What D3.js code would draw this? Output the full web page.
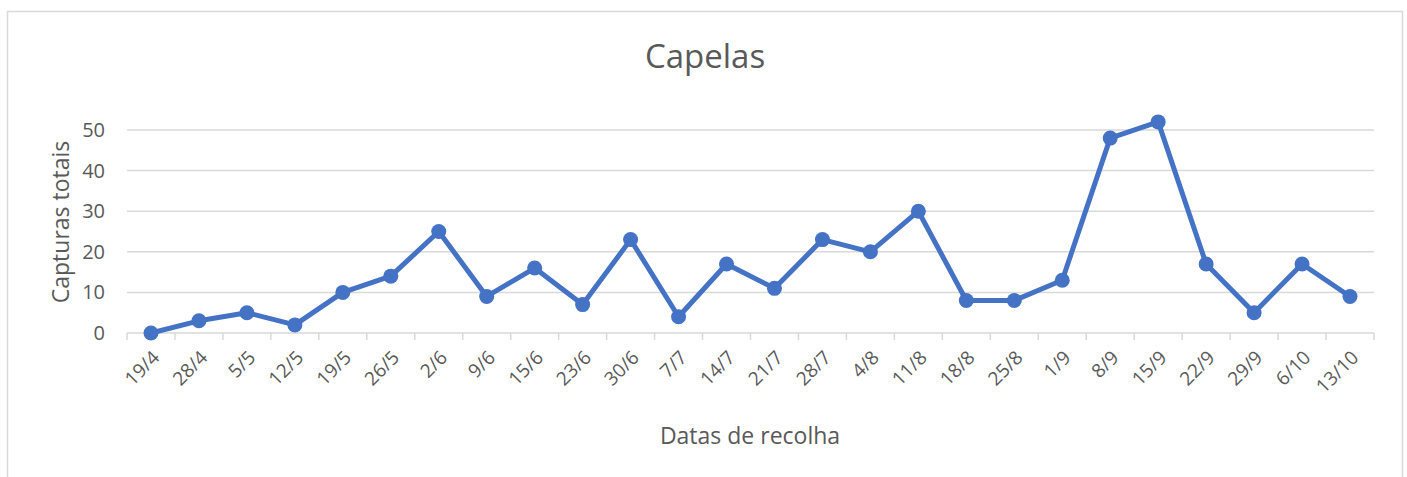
<!DOCTYPE html>
<html>
<head>
<meta charset="utf-8">
<script src="https://cdn.jsdelivr.net/npm/d3@7"></script>
<style>
  body { margin: 0; background: #fff; }
  svg { font-family: "Open Sans", sans-serif; }
</style>
</head>
<body>
<div class="chart-box"></div>
<script>
var dates = ["19/4","28/4","5/5","12/5","19/5","26/5","2/6","9/6","15/6","23/6","30/6","7/7","14/7","21/7","28/7","4/8","11/8","18/8","25/8","1/9","8/9","15/9","22/9","29/9","6/10","13/10"];
var capturas = [0,3,5,2,10,14,25,9,16,7,23,4,17,11,23,20,30,8,8,13,48,52,17,5,17,9];
var y_ticks = [0,10,20,30,40,50];

var width = 1407, height = 477;
var plot_left = 127, plot_right = 1374, plot_top = 130, plot_bottom = 333;

var svg = d3.select(".chart-box").append("svg")
    .attr("width", width)
    .attr("height", height);

// chart border
svg.append("rect")
    .attr("x", 7.5).attr("y", 11.5)
    .attr("width", 1395).attr("height", 480)
    .attr("fill", "none")
    .attr("stroke", "#d9d9d9")
    .attr("stroke-width", 1.5);

var x = d3.scaleBand()
    .domain(dates)
    .range([plot_left, plot_right]);

var y = d3.scaleLinear()
    .domain([0, 50])
    .range([plot_bottom, plot_top]);

// gridlines
svg.append("g")
    .selectAll("line")
    .data(y_ticks.slice(1))
  .enter().append("line")
    .attr("x1", plot_left).attr("x2", plot_right)
    .attr("y1", function(d) { return y(d); })
    .attr("y2", function(d) { return y(d); })
    .attr("stroke", "#d9d9d9")
    .attr("stroke-width", 1.5);

// y labels
svg.append("g")
    .selectAll("text")
    .data(y_ticks)
  .enter().append("text")
    .attr("x", 105)
    .attr("y", function(d) { return y(d); })
    .attr("dy", "0.35em")
    .attr("text-anchor", "end")
    .attr("fill", "#595959")
    .style("font-size", "20px")
    .text(function(d) { return d; });

// x axis
var x_axis = svg.append("g")
    .attr("transform", "translate(0," + plot_bottom + ")");
x_axis.append("line")
    .attr("x1", plot_left).attr("x2", plot_right)
    .attr("stroke", "#d9d9d9").attr("stroke-width", 1.5);
x_axis.selectAll(".tick")
    .data(dates.concat(["_end"]))
  .enter().append("line")
    .attr("class", "tick")
    .attr("x1", function(d, i) { return plot_left + i * x.step(); })
    .attr("x2", function(d, i) { return plot_left + i * x.step(); })
    .attr("y1", 0).attr("y2", 7)
    .attr("stroke", "#d9d9d9").attr("stroke-width", 1.5);
x_axis.selectAll(".lbl")
    .data(dates)
  .enter().append("text")
    .attr("class", "lbl")
    .attr("transform", function(d) {
      return "translate(" + (x(d) + x.bandwidth() / 2 + 5) + ",21) rotate(-45)";
    })
    .attr("text-anchor", "end")
    .attr("dy", "0.35em")
    .attr("fill", "#595959")
    .style("font-size", "19px")
    .text(function(d) { return d; });

// line
var line = d3.line()
    .x(function(d, i) { return x(dates[i]) + x.bandwidth() / 2; })
    .y(function(d) { return y(d); });

svg.append("path")
    .datum(capturas)
    .attr("d", line)
    .attr("fill", "none")
    .attr("stroke", "#4472c4")
    .attr("stroke-width", 5)
    .attr("stroke-linejoin", "round");

svg.append("g")
    .selectAll("circle")
    .data(capturas)
  .enter().append("circle")
    .attr("cx", function(d, i) { return x(dates[i]) + x.bandwidth() / 2; })
    .attr("cy", function(d) { return y(d); })
    .attr("r", 7.5)
    .attr("fill", "#4472c4");

// titles
svg.append("text")
    .attr("x", 705).attr("y", 68)
    .attr("text-anchor", "middle")
    .attr("fill", "#595959")
    .style("font-size", "33px")
    .text("Capelas");

svg.append("text")
    .attr("transform", "translate(69,222) rotate(-90)")
    .attr("text-anchor", "middle")
    .attr("fill", "#595959")
    .style("font-size", "23px")
    .text("Capturas totais");

svg.append("text")
    .attr("x", 750).attr("y", 444)
    .attr("text-anchor", "middle")
    .attr("fill", "#595959")
    .style("font-size", "23px")
    .text("Datas de recolha");
</script>
</body>
</html>
